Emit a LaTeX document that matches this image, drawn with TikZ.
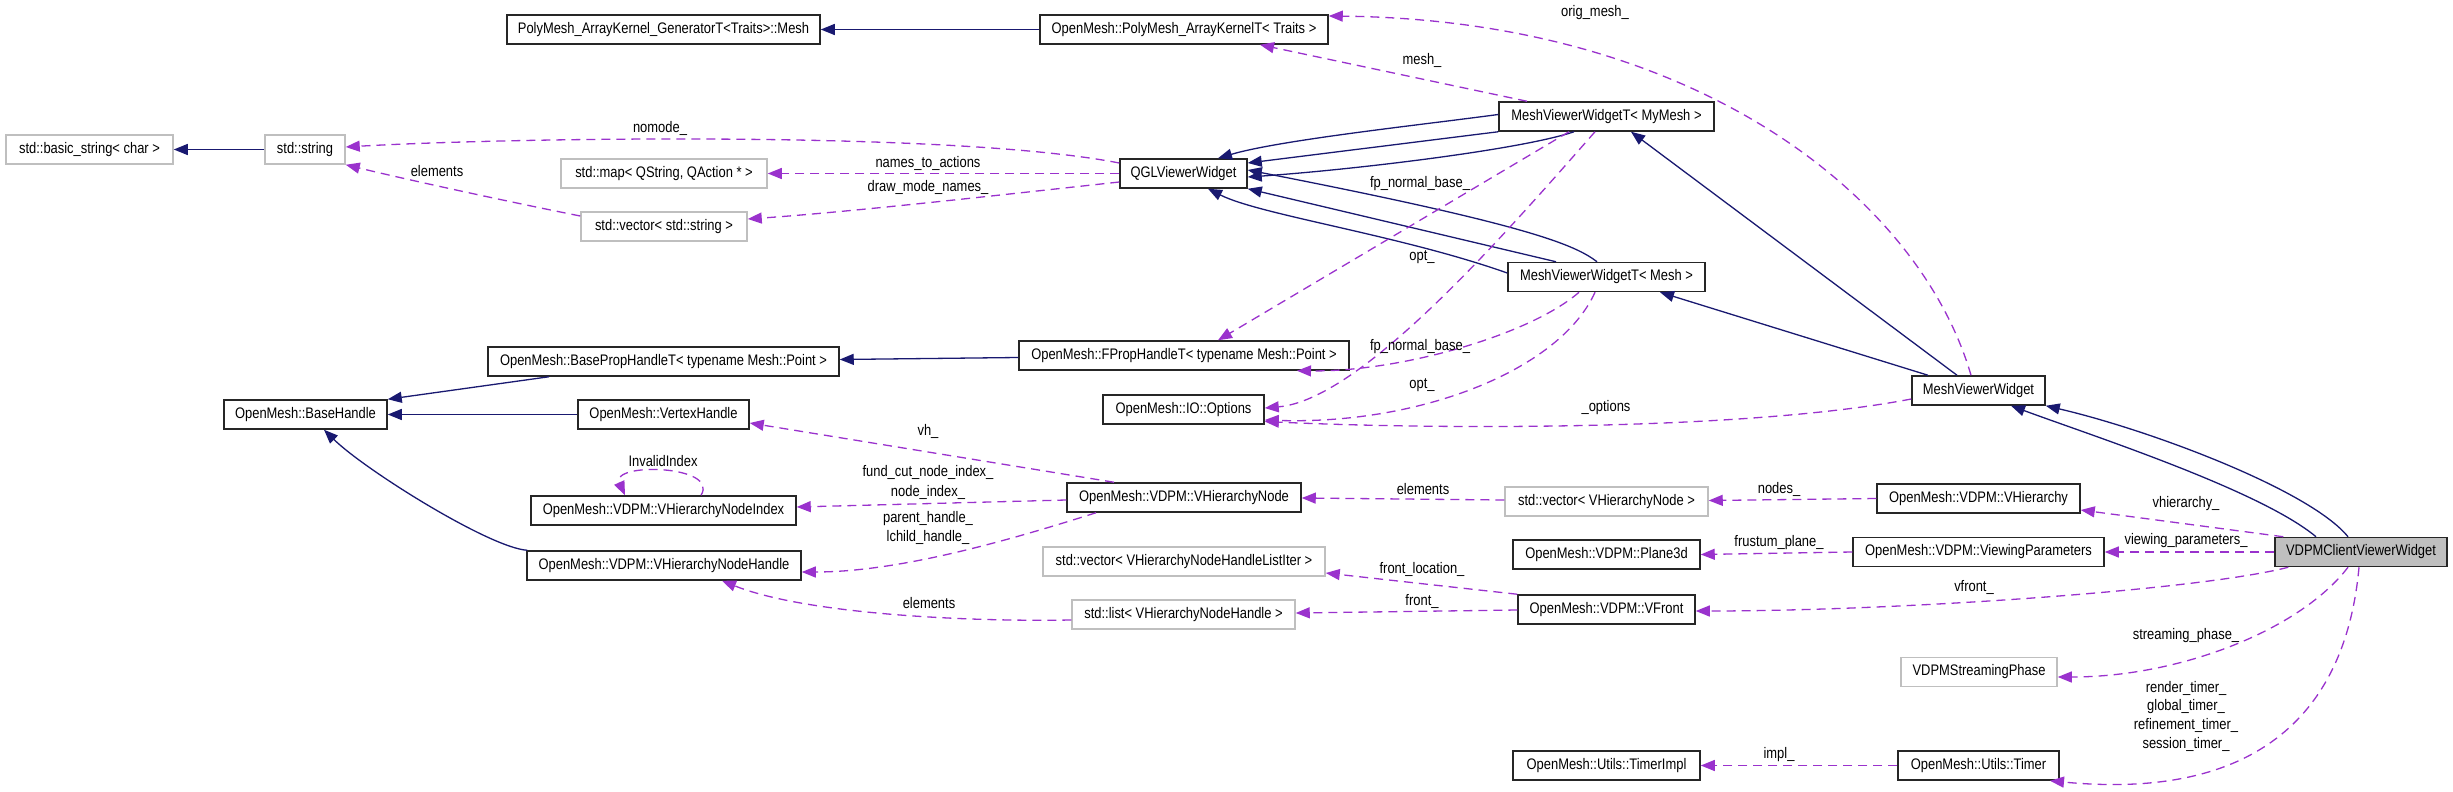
\documentclass[tikz,border=0pt]{standalone}
\usepackage{fontspec}
\setmainfont{Liberation Sans}
\newfontfamily\dgfont[FakeStretch=0.845]{Liberation Sans}
\newcommand\dgf{\dgfont\fontsize{15.3}{17}\selectfont}
\usetikzlibrary{arrows.meta,calc}
\definecolor{inhcol}{RGB}{25,25,112}
\definecolor{usecol}{RGB}{154,50,205}
\definecolor{boxgray}{RGB}{191,191,191}
\tikzset{
 cls/.style={draw=black!85, line width=1.5pt, rectangle, minimum height=29pt, inner sep=0pt, font=\dgf, anchor=center},
 ext/.style={cls, draw=boxgray},
 inh/.style={color=inhcol, line width=1.3pt, -{Triangle[length=14pt,width=11pt]}},
 use/.style={color=usecol, line width=1.3pt, dash pattern=on 9pt off 6pt, -{Triangle[length=14pt,width=11pt]}},
 lbl/.style={font=\dgf, inner sep=0pt, anchor=center},
}
\begin{document}
\begin{tikzpicture}[x=1pt,y=-1pt]
\useasboundingbox (0,0) rectangle (2453,792);
% nodes
\node[cls, minimum width=313pt] (gen) at (663.5,29.5) {PolyMesh\_ArrayKernel\_GeneratorT<Traits>::Mesh};
\node[cls, minimum width=288pt] (pak) at (1184,29.5) {OpenMesh::PolyMesh\_ArrayKernelT< Traits >};
\node[ext, minimum width=167pt] (bstr) at (89.5,149.5) {std::basic\_string< char >};
\node[ext, minimum width=80pt] (str) at (305,149.5) {std::string};
\node[ext, minimum width=206pt] (map) at (664,173.5) {std::map< QString, QAction * >};
\node[ext, minimum width=166pt] (vstr) at (664,226.5) {std::vector< std::string >};
\node[cls, minimum width=127pt] (qgl) at (1183.5,173.5) {QGLViewerWidget};
\node[cls, minimum width=215pt] (mvmy) at (1606.5,116.5) {MeshViewerWidgetT< MyMesh >};
\node[cls, minimum width=197pt] (mvm) at (1606.5,277) {MeshViewerWidgetT< Mesh >};
\node[cls, minimum width=351pt] (bph) at (663.5,361.5) {OpenMesh::BasePropHandleT< typename Mesh::Point >};
\node[cls, minimum width=330pt] (fph) at (1184,355.5) {OpenMesh::FPropHandleT< typename Mesh::Point >};
\node[cls, minimum width=163pt] (bh) at (305.5,414.5) {OpenMesh::BaseHandle};
\node[cls, minimum width=171pt] (vh) at (663.5,414.5) {OpenMesh::VertexHandle};
\node[cls, minimum width=161pt] (opts) at (1183.5,409.5) {OpenMesh::IO::Options};
\node[cls, minimum width=133pt] (mvw) at (1978.5,390.5) {MeshViewerWidget};
\node[cls, minimum width=265pt] (vhni) at (663.5,510.5) {OpenMesh::VDPM::VHierarchyNodeIndex};
\node[cls, minimum width=234pt] (vhn) at (1184,497.5) {OpenMesh::VDPM::VHierarchyNode};
\node[ext, minimum width=203pt] (vvhn) at (1606.5,501.5) {std::vector< VHierarchyNode >};
\node[cls, minimum width=203pt] (vhier) at (1978.5,498.5) {OpenMesh::VDPM::VHierarchy};
\node[cls, minimum width=274pt] (vhnh) at (664,565.5) {OpenMesh::VDPM::VHierarchyNodeHandle};
\node[ext, minimum width=282pt] (vlist) at (1184,561.5) {std::vector< VHierarchyNodeHandleListIter >};
\node[cls, minimum width=187pt] (plane) at (1606.5,554.5) {OpenMesh::VDPM::Plane3d};
\node[cls, minimum width=251pt] (vp) at (1978.5,552) {OpenMesh::VDPM::ViewingParameters};
\node[cls, minimum width=172pt, fill=boxgray] (client) at (2361,552) {VDPMClientViewerWidget};
\node[ext, minimum width=223pt] (slist) at (1183.5,614.5) {std::list< VHierarchyNodeHandle >};
\node[cls, minimum width=177pt] (vfront) at (1606.5,609.5) {OpenMesh::VDPM::VFront};
\node[ext, minimum width=156pt] (sphase) at (1979,672) {VDPMStreamingPhase};
\node[cls, minimum width=187pt] (timpl) at (1606.5,765.5) {OpenMesh::Utils::TimerImpl};
\node[cls, minimum width=161pt] (timer) at (1978.5,765.5) {OpenMesh::Utils::Timer};
% inheritance
\draw[inh] (pak.west) -- (gen.east);
\draw[inh] (str.west) -- (bstr.east);
\draw[inh] ($(fph.west)+(0,2)$) -- ($(bph.east)+(0,-2)$);
\draw[inh] ($(bph.south)+(-114.5,0)$) -- (bh.north east);
\draw[inh] (vh.west) -- (bh.east);
\draw[inh] ($(vhnh.north west)+(1,0)$) .. controls (490,548) and (365,470) .. ($(bh.south)+(18.5,0)$);
\draw[inh] ($(mvmy.west)+(0,-2)$) .. controls (1420,125) and (1280,140) .. ($(qgl.north)+(34.5,0)$);
\draw[inh] (mvmy.south west) -- ($(qgl.east)+(0,-10.5)$);
\draw[inh] ($(mvmy.south)+(-32.5,0)$) .. controls (1520,150) and (1350,170) .. ($(qgl.east)+(0,3.5)$);
\draw[inh] ($(mvm.north)+(-9.5,0)$) .. controls (1575,245) and (1530,225) .. ($(qgl.east)+(0,-3.5)$);
\draw[inh] ($(mvm.north)+(-50.5,0)$) -- (qgl.south east);
\draw[inh] ($(mvm.west)+(0,-4)$) .. controls (1400,235) and (1260,215) .. ($(qgl.south)+(24.5,0)$);
\draw[inh] ($(mvw.north)+(-21.5,0)$) -- ($(mvmy.south)+(24.5,0)$);
\draw[inh] ($(mvw.north)+(-50.5,0)$) -- ($(mvm.south)+(53.5,0)$);
\draw[inh] ($(client.north)+(-45,0)$) .. controls (2260,490) and (2090,435) .. ($(mvw.south)+(32.5,0)$);
\draw[inh] ($(client.north)+(-13,0)$) .. controls (2310,490) and (2150,430) .. (mvw.south east);
% usage
\draw[use] ($(qgl.west)+(0,-10.5)$) .. controls (950,130) and (500,138) .. ($(str.east)+(0,-2.5)$);
\draw[use] (qgl.west) -- (map.east);
\draw[use] ($(qgl.west)+(0,8.5)$) .. controls (1000,195) and (850,212) .. ($(vstr.east)+(0,-7.5)$);
\draw[use] ($(vstr.west)+(0,-10.5)$) .. controls (500,200) and (400,178) .. (str.south east);
\draw[use] ($(mvmy.north)+(-79.5,0)$) -- ($(pak.south)+(76,0)$);
\draw[use] ($(mvw.north)+(-7.5,0)$) .. controls (1920,200) and (1700,20) .. ($(pak.east)+(0,-13.5)$);
\draw[use] ($(mvmy.south)+(-37.5,0)$) -- ($(fph.north)+(34,0)$);
\draw[use] ($(mvmy.south)+(-11.5,0)$) .. controls (1500,240) and (1360,400) .. ($(opts.east)+(0,-1.5)$);
\draw[use] ($(mvm.south)+(-27.5,0)$) .. controls (1530,335) and (1400,372) .. ($(fph.south)+(113,0)$);
\draw[use] ($(mvm.south)+(-11.5,0)$) .. controls (1560,370) and (1420,425) .. ($(opts.east)+(0,10.5)$);
\draw[use] ($(mvw.west)+(0,8.5)$) .. controls (1750,430) and (1450,430) .. ($(opts.east)+(0,12)$);
\draw[use] ($(vhn.north)+(-70,0)$) -- ($(vh.east)+(0,8.5)$);
\draw[use] ($(vhni.north)+(37.5,0)$) .. controls (720,465) and (610,462) .. ($(vhni.north)+(-38.5,0)$);
\draw[use] ($(vhn.west)+(0,2.5)$) -- ($(vhni.east)+(0,-3.5)$);
\draw[use] ($(vhn.south)+(-88,0)$) .. controls (1010,540) and (900,572) .. ($(vhnh.east)+(0,6.5)$);
\draw[use] ($(vvhn.west)+(0,-1.5)$) -- ($(vhn.east)+(0,0.5)$);
\draw[use] (vhier.west) -- ($(vvhn.east)+(0,-1)$);
\draw[use] ($(client.north west)+(9,0)$) -- ($(vhier.east)+(0,11.5)$);
\draw[use] (client.west) -- (vp.east);
\draw[use] (vp.west) -- (plane.east);
\draw[use] ($(client.south west)+(14,0)$) .. controls (2200,590) and (1900,611) .. ($(vfront.east)+(0,1.5)$);
\draw[use] (vfront.north west) -- ($(vlist.east)+(0,11.5)$);
\draw[use] ($(vfront.west)+(0,0.5)$) -- ($(slist.east)+(0,-1.5)$);
\draw[use] ($(slist.west)+(0,5.5)$) .. controls (950,622) and (800,612) .. ($(vhnh.south)+(58,0)$);
\draw[use] ($(client.south)+(-13,0)$) .. controls (2300,630) and (2180,677) .. ($(sphase.east)+(0,5)$);
\draw[use] ($(client.south)+(-2,0)$) .. controls (2345,720) and (2250,800) .. ($(timer.south)+(71.5,0)$);
\draw[use] (timer.west) -- (timpl.east);
% labels
\node[lbl] (l1) at (660,128) {nomode\_};
\node[lbl] (l2) at (928,163) {names\_to\_actions};
\node[lbl] (l3) at (928,187) {draw\_mode\_names\_};
\node[lbl] (l4) at (437,171) {elements};
\node[lbl] (l5) at (1422,60) {mesh\_};
\node[lbl] (l6) at (1595,13) {orig\_mesh\_};
\node[lbl] (l7) at (1420,184) {fp\_normal\_base\_};
\node[lbl] (l8) at (1422,257) {opt\_};
\node[lbl] (l9) at (1420,347) {fp\_normal\_base\_};
\node[lbl] (l10) at (1422,385) {opt\_};
\node[lbl] (l11) at (1606,408) {\_options};
\node[lbl] (l12) at (928,431) {vh\_};
\node[lbl] (l13) at (663,461) {InvalidIndex};
\node[lbl] (l14) at (928,472) {fund\_cut\_node\_index\_};
\node[lbl] (l15) at (928,492) {node\_index\_};
\node[lbl] (l16) at (928,519) {parent\_handle\_};
\node[lbl] (l17) at (928,537) {lchild\_handle\_};
\node[lbl] (l18) at (1423,489) {elements};
\node[lbl] (l19) at (1779,489) {nodes\_};
\node[lbl] (l20) at (2186,504) {vhierarchy\_};
\node[lbl] (l21) at (1779,543) {frustum\_plane\_};
\node[lbl] (l22) at (2186,541) {viewing\_parameters\_};
\node[lbl] (l23) at (1974,587) {vfront\_};
\node[lbl] (l24) at (1422,569) {front\_location\_};
\node[lbl] (l25) at (1422,601) {front\_};
\node[lbl] (l26) at (929,603) {elements};
\node[lbl] (l27) at (2186,636) {streaming\_phase\_};
\node[lbl] (l28) at (2186,688) {render\_timer\_};
\node[lbl] (l29) at (2186,707) {global\_timer\_};
\node[lbl] (l30) at (2186,725) {refinement\_timer\_};
\node[lbl] (l31) at (2186,744) {session\_timer\_};
\node[lbl] (l32) at (1779,755) {impl\_};
\end{tikzpicture}
\end{document}
